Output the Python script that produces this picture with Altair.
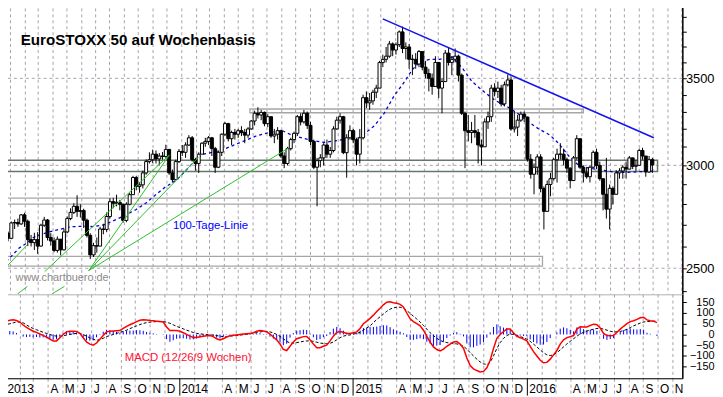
import altair as alt
import pandas as pd
import numpy as np

# ---------------- weekly candles (one per week, dated on the Friday) ----------------
FIRST_WEEK = "2012-12-28"
FIRST_OPEN = 2660

CLOSE_2013 = [2636, 2709, 2711, 2704, 2748, 2717, 2630, 2616, 2630, 2600, 2698, 2723, 2640,
              2624, 2580, 2632, 2583, 2666, 2730, 2760, 2790, 2765, 2769, 2722, 2650, 2560,
              2602, 2600, 2680, 2678, 2740, 2813, 2805, 2810, 2800, 2721, 2800, 2848, 2936,
              2890, 2898, 2960, 3020, 3030, 3060, 3034, 3050, 3047, 3086, 2960, 2925, 3020, 3075]
HIGH_2013 = [2668, 2716, 2725, 2730, 2752, 2758, 2725, 2652, 2662, 2665, 2705, 2738, 2728,
             2660, 2640, 2645, 2632, 2682, 2740, 2780, 2805, 2845, 2800, 2778, 2730, 2660,
             2615, 2640, 2690, 2705, 2760, 2830, 2832, 2848, 2822, 2803, 2810, 2858, 2945,
             2945, 2912, 2972, 3032, 3070, 3085, 3080, 3066, 3072, 3112, 3088, 2978, 3030, 3088]
LOW_2013 = [2622, 2632, 2680, 2690, 2700, 2690, 2600, 2598, 2582, 2565, 2598, 2690, 2626,
            2602, 2572, 2570, 2558, 2580, 2660, 2722, 2752, 2738, 2735, 2685, 2640, 2541,
            2550, 2570, 2600, 2655, 2665, 2730, 2780, 2790, 2770, 2710, 2712, 2795, 2848,
            2870, 2858, 2880, 2950, 3010, 3012, 3010, 3000, 3030, 3040, 2950, 2910, 2922, 3012]

CLOSE_2014 = [3070, 3110, 3150, 3030, 3010, 3060, 3120, 3130, 3150, 3090, 2990, 3070, 3170,
              3230, 3145, 3180, 3170, 3190, 3180, 3165, 3200, 3245, 3290, 3280, 3295, 3230,
              3270, 3160, 3170, 3190, 3050, 3010, 3090, 3140, 3175, 3270, 3240, 3290, 3220,
              3130, 2990, 3025, 3040, 3110, 3060, 3080, 3200, 3250, 3270, 3068, 3150, 3190]
HIGH_2014 = [3110, 3125, 3165, 3160, 3040, 3070, 3125, 3150, 3160, 3155, 3100, 3080, 3175,
             3240, 3235, 3190, 3200, 3200, 3215, 3200, 3210, 3250, 3305, 3325, 3310, 3300,
             3285, 3270, 3200, 3210, 3195, 3070, 3100, 3150, 3185, 3280, 3290, 3310, 3300,
             3240, 3140, 3040, 3060, 3120, 3140, 3100, 3215, 3270, 3290, 3275, 3170, 3220]
LOW_2014 = [3050, 3040, 3105, 3020, 2972, 2960, 3060, 3100, 3110, 3050, 2960, 2985, 3050,
            3160, 3130, 3110, 3140, 3150, 3160, 3120, 3150, 3195, 3220, 3260, 3250, 3215,
            3210, 3150, 3120, 3140, 3040, 2985, 3000, 3080, 3120, 3160, 3220, 3230, 3200,
            3110, 2980, 2790, 2990, 3000, 3040, 3040, 3070, 3195, 3230, 3060, 2935, 3140]

CLOSE_2015 = [3139, 3060, 3150, 3382, 3351, 3363, 3415, 3440, 3599, 3620, 3640, 3720, 3680,
              3715, 3800, 3690, 3700, 3620, 3620, 3590, 3670, 3570, 3530, 3500, 3450, 3600,
              3440, 3480, 3660, 3600, 3620, 3640, 3520, 3290, 3190, 3180, 3190, 3180, 3110,
              3100, 3240, 3270, 3440, 3420, 3440, 3345, 3460, 3490, 3200, 3210, 3250, 3285]
HIGH_2015 = [3200, 3150, 3200, 3400, 3420, 3410, 3430, 3460, 3610, 3650, 3700, 3740, 3730,
             3730, 3810, 3836, 3730, 3720, 3650, 3660, 3680, 3670, 3610, 3560, 3530, 3640,
             3560, 3500, 3680, 3700, 3640, 3690, 3650, 3530, 3300, 3280, 3240, 3280, 3200,
             3140, 3260, 3300, 3460, 3470, 3480, 3460, 3480, 3525, 3510, 3300, 3280, 3300]
LOW_2015 = [3120, 3000, 3010, 3140, 3320, 3310, 3340, 3380, 3440, 3570, 3600, 3630, 3640,
            3650, 3700, 3660, 3620, 3560, 3520, 3560, 3570, 3550, 3500, 3420, 3400, 3450,
            3380, 3290, 3480, 3580, 3520, 3600, 3480, 3280, 2985, 3130, 3120, 3150, 3010,
            3000, 3100, 3200, 3240, 3390, 3380, 3330, 3330, 3450, 3190, 3180, 3160, 3240]

CLOSE_2016 = [3268, 3033, 2953, 2990, 3045, 2880, 2765, 2900, 2930, 3030, 3060, 3060, 3030,
              2985, 2920, 3040, 3145, 2990, 2960, 2940, 2990, 3070, 3000, 2930, 2850, 2776,
              2880, 2850, 2960, 2970, 2990, 2980, 3040, 2995, 3000, 3080, 3050, 2965, 3030, 3002]
HIGH_2016 = [3300, 3270, 3060, 3010, 3060, 3060, 2890, 2920, 2960, 3040, 3090, 3120, 3090,
             3040, 2990, 3050, 3165, 3140, 3000, 2990, 3000, 3080, 3090, 3020, 2930, 3040,
             2900, 2890, 2975, 2985, 3000, 3020, 3050, 3040, 3030, 3090, 3095, 3050, 3050, 3040]
LOW_2016 = [3240, 3020, 2930, 2850, 2950, 2860, 2678, 2770, 2840, 2920, 2910, 3030, 3000,
            2960, 2880, 2920, 3030, 2980, 2910, 2930, 2910, 2985, 2980, 2920, 2770, 2730,
            2678, 2800, 2860, 2930, 2930, 2930, 2990, 2980, 2970, 3000, 3030, 2940, 2960, 2960]

# ---------------- 100-day moving average ----------------
MA_DATES = ["2012-12-24", "2013-01-07", "2013-01-20", "2013-02-03", "2013-02-20", "2013-03-08",
            "2013-03-23", "2013-04-10", "2013-05-12", "2013-06-10", "2013-06-29", "2013-07-20",
            "2013-08-15", "2013-09-05", "2013-09-26", "2013-10-17", "2013-11-07", "2013-11-28",
            "2013-12-22", "2014-01-15", "2014-02-06", "2014-02-18", "2014-03-26", "2014-04-30",
            "2014-06-11", "2014-07-08", "2014-08-04", "2014-08-24", "2014-10-05", "2014-11-03",
            "2014-12-10", "2015-01-15", "2015-02-16", "2015-03-09", "2015-03-30", "2015-04-19",
            "2015-05-08", "2015-05-25", "2015-06-14", "2015-07-05", "2015-08-01", "2015-08-22",
            "2015-09-12", "2015-10-11", "2015-11-01", "2015-11-28", "2015-12-20", "2016-01-10",
            "2016-02-01", "2016-02-25", "2016-03-15", "2016-04-05", "2016-04-26", "2016-05-18",
            "2016-06-16", "2016-07-13", "2016-08-10", "2016-09-15", "2016-09-30"]
MA_VALUES = [2530, 2560, 2590, 2610, 2640, 2655, 2664, 2675, 2691, 2693, 2691, 2700,
             2725, 2748, 2773, 2805, 2847, 2887, 2923, 2985, 3043, 3060, 3080, 3117,
             3162, 3180, 3190, 3165, 3135, 3124, 3140, 3150, 3218, 3290, 3393, 3470,
             3555, 3606, 3620, 3620, 3635, 3565, 3480, 3409, 3365, 3325, 3285, 3240,
             3200, 3165, 3117, 3050, 3000, 2985, 2974, 2963, 2963, 2968, 2970]

# ---------------- MACD (12/26/9), weekly ----------------
MACD = [60, 63, 66, 68, 65, 58, 44, 33, 24, 15,
        10, 2, -4, -12, -22, -30, -30, -15, 0, 12,
        15, 15, 14, 5, -15, -35, -45, -50, -40, -22,
        -5, 12, 15, 16, 17, 18, 28, 38, 45, 52,
        60, 66, 68, 67, 65, 64, 62, 60, 58, 35,
        18, 18, 18, 15, 8, 0, -8, -14, -14, -11,
        -8, -6, -5, -10, -20, -26, -20, -12, -6, -4,
        -2, 0, 2, 3, 4, 8, 15, 18, 16, 12,
        2, -12, -25, -45, -70, -75, -55, -35, -20, -15,
        -10, -9, -25, -45, -62, -62, -55, -50, -30, -8,
        10, 14, 10, 5, 5, 8, 12, 28, 50, 62,
        75, 90, 107, 122, 138, 150, 152, 148, 145, 140,
        128, 100, 73, 60, 50, 40, 20, -9, -35, -58,
        -70, -77, -68, -55, -45, -35, -33, -45, -64, -110,
        -145, -160, -168, -175, -172, -155, -120, -65, -18, 0,
        14, 25, 25, 8, -9, -15, -22, -30, -55, -80,
        -100, -120, -132, -130, -115, -95, -75, -45, -25, -15,
        -10, -5, 25, 36, 35, 35, 42, 48, 45, 30,
        5, -5, -6, -5, 10, 25, 38, 50, 60, 64,
        70, 78, 80, 68, 64, 62, 55]
SIGNAL = [42, 46, 50, 54, 58, 58, 54, 45, 35, 28,
          22, 16, 10, 5, 0, -5, -8, -8, -6, -3,
          0, 3, 5, 5, 0, -8, -16, -22, -27, -24,
          -18, -10, -5, 0, 5, 10, 14, 20, 27, 34,
          40, 46, 51, 55, 57, 59, 60, 60, 60, 57,
          52, 45, 38, 32, 26, 20, 15, 9, 5, 3,
          1, 0, -2, -3, -5, -8, -10, -10, -8, -6,
          -5, -3, -1, 1, 3, 5, 9, 12, 14, 14,
          12, 7, 0, -9, -20, -32, -40, -41, -38, -35,
          -32, -30, -30, -32, -36, -40, -42, -43, -41, -35,
          -25, -15, -8, -4, -2, 2, 5, 10, 20, 30,
          40, 55, 70, 82, 95, 108, 118, 124, 127, 127,
          122, 112, 98, 85, 72, 58, 42, 25, 8, -5,
          -18, -28, -34, -38, -40, -42, -44, -48, -55, -68,
          -85, -100, -115, -128, -137, -140, -130, -100, -65, -38,
          -18, -5, 2, 0, -5, -10, -15, -22, -32, -45,
          -58, -72, -85, -95, -98, -95, -85, -72, -58, -44,
          -32, -20, -8, 3, 10, 16, 20, 25, 28, 28,
          25, 20, 15, 12, 12, 14, 18, 24, 32, 40,
          47, 53, 58, 60, 61, 62, 62]

# ---------------- zones (rectangles) ----------------
BOX_START = ["2012-12-23T16:00:00", "2012-12-23T16:00:00", "2012-12-23T16:00:00", "2014-05-27T00:00:00"]
BOX_END = ["2016-10-11T00:00:00", "2016-07-08T00:00:00", "2016-02-09T00:00:00", "2016-05-06T00:00:00"]
BOX_LOW = [2968, 2801, 2509, 3293]
BOX_HIGH = [3027, 2831, 2553, 3315]
BOX_KIND = ["key", "zone", "zone", "zone"]

# ---------------- trend lines ----------------
TL_NAME = ["Abwaertstrend", "Faecher 1", "Faecher 2", "Faecher 3", "Trend April",
           "Trend April unten", "Faecher 3 unten", "Trend Jan"]
TL_KIND = ["trend", "fan", "fan", "fan", "fan", "fan", "fan", "fan"]
TL_START_DATE = ["2015-03-06", "2013-06-18", "2013-06-18", "2013-06-18", "2013-03-16",
                 "2013-01-17", "2013-03-31", "2012-12-23"]
TL_START_PRICE = [3889, 2490, 2490, 2490, 2485, 2388, 2388, 2503]
TL_END_DATE = ["2016-10-03", "2013-12-07", "2014-02-06", "2014-08-18", "2013-12-05",
               "2013-02-07", "2013-04-27", "2013-02-07"]
TL_END_PRICE = [3150, 3057, 3042, 3095, 3052, 2421, 2421, 2606]

GRID_LEVELS = [2500, 3000, 3500, 4000]
PRICE_TICKS = [2400, 2500, 2600, 2700, 2800, 2900, 3000, 3100, 3200, 3300, 3400, 3500,
               3600, 3700, 3800, 3900]
MACD_TICKS = [-150, -100, -50, 0, 50, 100, 150]

TITLE = "EuroSTOXX 50 auf Wochenbasis"
MA_LABEL = "100-Tage-Linie"
SITE_LABEL = "www.chartbuero.de"
MACD_LABEL = "MACD (12/26/9 Wochen)"

# ---------------- build tables ----------------
closes = CLOSE_2013 + CLOSE_2014 + CLOSE_2015 + CLOSE_2016
highs = HIGH_2013 + HIGH_2014 + HIGH_2015 + HIGH_2016
lows = LOW_2013 + LOW_2014 + LOW_2015 + LOW_2016
dates = pd.date_range(FIRST_WEEK, periods=len(closes), freq="7D")
opens = [FIRST_OPEN] + closes[:-1]
candles = pd.DataFrame({"date": dates, "open": opens, "close": closes, "high": highs, "low": lows})
candles["high"] = candles[["high", "open", "close"]].max(axis=1)
candles["low"] = candles[["low", "open", "close"]].min(axis=1)
candles["body"] = np.where(candles["close"] >= candles["open"], "up", "down")

ma = pd.DataFrame({"date": pd.to_datetime(MA_DATES), "ma": MA_VALUES})

macd = pd.DataFrame({"date": dates, "macd": MACD, "signal": SIGNAL})
macd["hist"] = macd["macd"] - macd["signal"]
macd["zero"] = 0

boxes = pd.DataFrame({"start": pd.to_datetime(BOX_START, format="ISO8601"),
                      "end": pd.to_datetime(BOX_END, format="ISO8601"),
                      "low": BOX_LOW, "high": BOX_HIGH, "kind": BOX_KIND})

rows = []
for n, k, d0, p0, d1, p1 in zip(TL_NAME, TL_KIND, TL_START_DATE, TL_START_PRICE, TL_END_DATE, TL_END_PRICE):
    rows.append({"name": n, "kind": k, "date": pd.Timestamp(d0), "price": p0})
    rows.append({"name": n, "kind": k, "date": pd.Timestamp(d1), "price": p1})
lines = pd.DataFrame(rows)

grid = pd.DataFrame({"level": GRID_LEVELS})

title_df = pd.DataFrame({"date": [pd.Timestamp("2013-01-24")], "price": [3715], "label": [TITLE]})
ma_lbl = pd.DataFrame({"date": [pd.Timestamp("2013-12-14")], "price": [2694], "label": [MA_LABEL]})
site_lbl = pd.DataFrame({"date": [pd.Timestamp("2013-01-13")], "price": [2459], "label": [SITE_LABEL]})
macd_lbl = pd.DataFrame({"date": [pd.Timestamp("2013-09-09")], "value": [-112], "label": [MACD_LABEL]})

# ---------------- scales & axes ----------------
FONT = "Liberation Sans"
GRID_COLOR = "#ab9fae"
X_SCALE = alt.Scale(domain=[alt.DateTime(year=2012, month=12, date=23, hours=16),
                            alt.DateTime(year=2016, month=11, date=22, hours=5)], nice=False)
Y_SCALE = alt.Scale(type="log", domain=[2388, 4007], nice=False)
M_SCALE = alt.Scale(domain=[-204, 188], nice=False, zero=False)

MONTH_TICKS = {"interval": "month", "step": 1}
JAN_TEST = "month(datum.value) == 0"
X_AXIS_MAIN = alt.Axis(title=None, labels=False, ticks=False, tickSize=0, domain=True,
                       domainColor="black", domainWidth=1, grid=True, gridColor=GRID_COLOR,
                       gridDash=[3, 3], gridWidth=1, tickCount=MONTH_TICKS)
LABEL_EXPR = ("month(datum.value) == 0 ? timeFormat(datum.value, '%Y') : "
              "(month(datum.value) < 3 ? '' : "
              "['J','F','M','A','M','J','J','A','S','O','N','D'][month(datum.value)])")
X_AXIS_MACD = alt.Axis(title=None, labels=True, labelExpr=LABEL_EXPR, labelAlign="left",
                       labelOffset=2, labelPadding=-12, labelFontSize=12, labelColor="black",
                       labelFont=FONT, labelOverlap=False, labelFlush=False, ticks=True,
                       tickSize=17, tickWidth=1,
                       tickColor={"condition": {"test": JAN_TEST, "value": "black"}, "value": GRID_COLOR},
                       tickDash={"condition": {"test": JAN_TEST, "value": [20, 0]}, "value": [3, 3]},
                       domain=True, domainColor="black", domainWidth=1, grid=True,
                       gridColor=GRID_COLOR, gridDash=[3, 3], gridWidth=1, tickCount=MONTH_TICKS)
Y_AXIS_MAIN = alt.Axis(orient="right", title=None, values=PRICE_TICKS,
                       labelExpr="indexof([2500, 3000, 3500], datum.value) >= 0 ? format(datum.value, 'd') : ''",
                       labelAlign="right", labelBaseline="middle", labelPadding=28, tickSize=4,
                       tickColor="black", domainColor="black", domainWidth=1.5, grid=False,
                       labelFontSize=13, labelColor="black", labelFont=FONT, labelOverlap=False)
Y_AXIS_MACD = alt.Axis(orient="right", title=None, values=MACD_TICKS, labelAlign="right",
                       labelBaseline="middle", labelPadding=28, tickSize=4, tickColor="black",
                       domainColor="black", domainWidth=1.5, grid=False, labelFontSize=11,
                       labelColor="black", labelFont=FONT, labelOverlap=False)


def xe(field):
    return alt.X(f"{field}:T", scale=X_SCALE, axis=X_AXIS_MAIN)


def ye(field):
    return alt.Y(f"{field}:Q", scale=Y_SCALE, axis=Y_AXIS_MAIN)


grid_layer = alt.Chart(grid).mark_rule(color=GRID_COLOR, strokeDash=[3, 3], strokeWidth=1).encode(
    y=ye("level"))

key_box_layer = alt.Chart(boxes[boxes["kind"] == "key"]).mark_rect(
    fillOpacity=0, stroke="#66776a", strokeWidth=1.5, clip=True).encode(
    x=xe("start"), x2="end:T", y=ye("low"), y2="high:Q")
zone_box_layer = alt.Chart(boxes[boxes["kind"] == "zone"]).mark_rect(
    fillOpacity=0, stroke="#a6a6a6", strokeWidth=1.3, clip=True).encode(
    x=xe("start"), x2="end:T", y=ye("low"), y2="high:Q")

ma_layer = alt.Chart(ma).mark_line(color="#0000dd", strokeDash=[3, 3], strokeWidth=1.3).encode(
    x=xe("date"), y=ye("ma"))

wick_layer = alt.Chart(candles).mark_rule(color="black", strokeWidth=1).encode(
    x=xe("date"), y=ye("low"), y2="high:Q")

body_layer = alt.Chart(candles).mark_bar(size=3, stroke="black", strokeWidth=1).encode(
    x=xe("date"), y=ye("open"), y2="close:Q",
    fill=alt.Fill("body:N", scale=alt.Scale(domain=["up", "down"], range=["white", "black"]),
                  legend=None))

fan_layer = alt.Chart(lines[lines["kind"] == "fan"]).mark_line(
    clip=True, color="#2cbf2c", strokeWidth=1).encode(
    x=xe("date"), y=ye("price"), detail="name:N")
trend_layer = alt.Chart(lines[lines["kind"] == "trend"]).mark_line(
    clip=True, color="#1414f0", strokeWidth=1.6).encode(
    x=xe("date"), y=ye("price"), detail="name:N")

title_layer = alt.Chart(title_df).mark_text(align="left", baseline="alphabetic", font=FONT,
                                            fontSize=15.3, fontWeight="bold", color="black").encode(
    x=xe("date"), y=ye("price"), text="label:N")
ma_text = alt.Chart(ma_lbl).mark_text(align="left", baseline="middle", font=FONT, fontSize=11.5,
                                      color="#0000ff").encode(
    x=xe("date"), y=ye("price"), text="label:N")
site_text = alt.Chart(site_lbl).mark_text(align="left", baseline="middle", font=FONT, fontSize=11,
                                          color="#8a8a8a").encode(
    x=xe("date"), y=ye("price"), text="label:N")

main = alt.layer(grid_layer, key_box_layer, zone_box_layer, ma_layer, wick_layer, body_layer,
                 fan_layer, trend_layer, title_layer, ma_text, site_text).properties(width=688, height=295)


def xm(field):
    return alt.X(f"{field}:T", scale=X_SCALE, axis=X_AXIS_MACD)


def ym(field):
    return alt.Y(f"{field}:Q", scale=M_SCALE, axis=Y_AXIS_MACD)


hist_layer = alt.Chart(macd).mark_rule(color="#0000ff", strokeWidth=1).encode(
    x=xm("date"), y=ym("zero"), y2="hist:Q")
signal_layer = alt.Chart(macd).mark_line(color="black", strokeDash=[3, 2], strokeWidth=1).encode(
    x=xm("date"), y=ym("signal"))
macd_layer = alt.Chart(macd).mark_line(color="#ff0000", strokeWidth=1.5).encode(
    x=xm("date"), y=ym("macd"))
macd_text = alt.Chart(macd_lbl).mark_text(align="left", baseline="middle", font=FONT, fontSize=11.5,
                                          color="#ff1030").encode(
    x=xm("date"), y=ym("value"), text="label:N")

lower = alt.layer(hist_layer, signal_layer, macd_layer, macd_text).properties(width=688, height=85)

chart = alt.vconcat(main, lower, spacing=0, bounds="flush").properties(
    padding={"left": -9, "top": -9, "right": 0, "bottom": 0}
).configure_view(stroke=None).configure(font=FONT)

chart.save("out.html", embed_options={"renderer": "svg", "actions": False})
